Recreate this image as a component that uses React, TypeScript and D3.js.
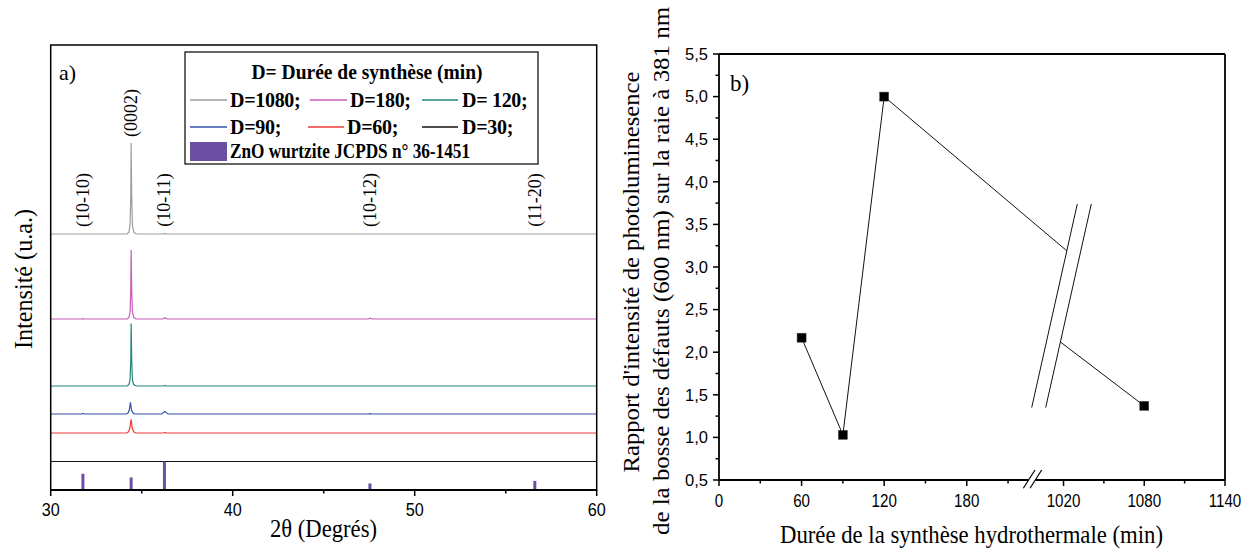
import React from 'react';
import * as d3 from 'd3';

// ---------- Panel a) : XRD patterns ----------
const xrdMajorTicks = [30, 40, 50, 60];
const xrdMinorTicks = [35, 45, 55];

const seriesNames = ['D=1080;', 'D=180;', 'D= 120;', 'D=90;', 'D=60;', 'D=30;'];
const seriesColors = ['#9d9d9d', '#c65bb8', '#24877e', '#3352a8', '#ee3a3a', '#111111'];
const seriesOffsets = [256, 171, 104, 76, 57, 28.5];

const xrd1080 = [[30, 0], [34.2, 0], [34.3, 2], [34.36, 9], [34.4, 38], [34.42, 91], [34.45, 38], [34.49, 9], [34.56, 2], [34.7, 0], [36.2, 0], [36.27, 0.6], [36.35, 0], [60, 0]];
const xrd180 = [[30, 0], [31.7, 0], [31.77, 0.3], [31.85, 0], [34.2, 0], [34.3, 1.5], [34.36, 7], [34.4, 29], [34.42, 69], [34.45, 29], [34.49, 7], [34.56, 1.5], [34.7, 0], [36.15, 0], [36.27, 1.3], [36.4, 0], [47.45, 0], [47.55, 0.8], [47.65, 0], [60, 0]];
const xrd120 = [[30, 0], [34.2, 0], [34.3, 1.5], [34.36, 6], [34.4, 26], [34.42, 62.5], [34.45, 26], [34.49, 6], [34.56, 1.5], [34.7, 0], [36.2, 0], [36.27, 0.5], [36.35, 0], [60, 0]];
const xrd90 = [[30, 0], [31.7, 0], [31.77, 0.6], [31.85, 0], [34.15, 0], [34.25, 1], [34.32, 4], [34.38, 11.7], [34.44, 4], [34.52, 1], [34.62, 0], [36.1, 0], [36.2, 1.6], [36.27, 2.5], [36.34, 1.6], [36.45, 0], [47.45, 0], [47.55, 0.4], [47.65, 0], [60, 0]];
const xrd60 = [[30, 0], [34.18, 0], [34.28, 1.2], [34.35, 5], [34.42, 13.7], [34.48, 5], [34.56, 1.2], [34.66, 0], [36.2, 0], [36.27, 0.5], [36.35, 0], [60, 0]];
const xrd30 = [[30, 0], [60, 0]];
const xrdSeries = [xrd1080, xrd180, xrd120, xrd90, xrd60, xrd30];

// JCPDS 36-1451 reference reflections
const refAngles = [31.77, 34.42, 36.25, 47.54, 56.6];
const refIntensities = [57, 44, 100, 23, 32];
const refLabels = ['(10-10)', '(0002)', '(10-11)', '(10-12)', '(11-20)'];
const refLabelCenters = [200, 113, 200, 200, 200];

// ---------- Panel b) : PL ratio ----------
const durations = [60, 90, 120, 1080];
const ratios = [2.17, 1.03, 5.0, 1.37];
const breakEntryRatio = 3.19;
const breakExitRatio = 2.12;
const yMajorTicks = [0.5, 1, 1.5, 2, 2.5, 3, 3.5, 4, 4.5, 5, 5.5];
const yMinorTicks = [0.75, 1.25, 1.75, 2.25, 2.75, 3.25, 3.75, 4.25, 4.75, 5.25];
const seg1Major = [0, 60, 120, 180];
const seg1Minor = [30, 90, 150, 210];
const seg2Major = [1020, 1080, 1140];
const seg2Minor = [1050, 1110];

const serif = "'Liberation Serif', 'Times New Roman', serif";
const sans = "'Liberation Sans', Arial, sans-serif";

export default function App() {
  // panel a scales
  const ax = d3.scaleLinear().domain([30, 60]).range([50.7, 596.7]);
  const ay = d3.scaleLinear().domain([0, 445]).range([490, 45]);
  const refY = d3.scaleLinear().domain([0, 100]).range([490, 461.5]);

  // panel b scales (broken x axis)
  const rx1 = d3.scaleLinear().domain([0, 225]).range([719, 1028.7]);
  const rx2 = d3.scaleLinear().domain([1004, 1140]).range([1042, 1225]);
  const rx = (t: number) => (t <= 600 ? rx1(t) : rx2(t));
  const ry = d3.scaleLinear().domain([0.5, 5.5]).range([480, 54]);

  // break band (decoration)
  const bandBottomY = ry(1.35);
  const bandTopY = ry(3.74);
  const bandBottomX = 1031.7;
  const bandSlope = (1077.3 - 1031.7) / (bandBottomY - bandTopY);
  const bandW = 14;
  const bandX = (y: number, off: number) => bandBottomX + off + (bandBottomY - y) * bandSlope;

  const pts = durations.map((t, i) => [rx(t), ry(ratios[i])]);
  const entry = [bandX(ry(breakEntryRatio), 0), ry(breakEntryRatio)];
  const exit = [bandX(ry(breakExitRatio), bandW), ry(breakExitRatio)];
  const linePts = [pts[0], pts[1], pts[2], entry, exit, pts[3]];
  const lineGen = d3.line<number[]>().x(d => d[0]).y(d => d[1]);

  const fmt = (v: number) => d3.format('.1f')(v).replace('.', ',');

  const legendRows = [
    [0, 1, 2],
    [3, 4, 5],
  ];
  const legendCols = [
    [[190, 227, 230], [310, 347, 350], [422, 458, 462]],
    [[190, 227, 230], [308, 344, 347], [422, 458, 462]],
  ];
  const legendRowY = [100, 127];

  return (
    <svg width={1250} height={552} style={{ position: 'absolute', left: 0, top: 0, background: '#fff' }}>
      <rect x={0} y={0} width={1250} height={552} fill="#fff" />

      {/* ===== Panel a ===== */}
      {xrdSeries.map((s, i) => {
        const g = d3.line<number[]>().x(d => ax(d[0])).y(d => ay(d[1] + seriesOffsets[i]));
        return <path key={i} d={g(s) || ''} fill="none" stroke={seriesColors[i]} strokeWidth={1.2} />;
      })}
      {refAngles.map((a, i) => (
        <line key={i} x1={ax(a)} x2={ax(a)} y1={refY(0)} y2={refY(refIntensities[i])} stroke="#6a4fa3" strokeWidth={3} />
      ))}
      <rect x={ax(30)} y={ay(445)} width={ax(60) - ax(30)} height={ay(0) - ay(445)} fill="none" stroke="#000" strokeWidth={1.5} />
      <line x1={ax(30)} x2={ax(60)} y1={ay(0)} y2={ay(0)} stroke="#000" strokeWidth={2} />
      {xrdMajorTicks.map(t => (
        <g key={t}>
          <line x1={ax(t)} x2={ax(t)} y1={490} y2={496} stroke="#000" strokeWidth={1.5} />
          <text transform={`translate(${ax(t)},516) scale(0.9,1)`} textAnchor="middle" fontFamily={sans} fontSize={18}>{t}</text>
        </g>
      ))}
      {xrdMinorTicks.map(t => (
        <line key={t} x1={ax(t)} x2={ax(t)} y1={490} y2={493.5} stroke="#000" strokeWidth={1.5} />
      ))}
      <text x={323.5} y={536.5} textAnchor="middle" fontFamily={serif} fontSize={25} textLength={107} lengthAdjust="spacingAndGlyphs">2θ (Degrés)</text>
      <text transform="translate(32,279) rotate(-90)" textAnchor="middle" fontFamily={serif} fontSize={26} textLength={140} lengthAdjust="spacingAndGlyphs">Intensité (u.a.)</text>
      <text x={59} y={79.5} fontFamily={serif} fontSize={22}>a)</text>
      {refLabels.map((l, i) => (
        <text key={l} transform={`translate(${ax(refAngles[i])},${refLabelCenters[i]}) rotate(-90)`} textAnchor="middle" dominantBaseline="central" fontFamily={serif} fontSize={18}>{l}</text>
      ))}

      {/* legend */}
      <rect x={185} y={52} width={353} height={112} fill="#fff" stroke="#000" strokeWidth={1.2} />
      <text x={367} y={78.5} textAnchor="middle" fontFamily={serif} fontWeight="bold" fontSize={20} textLength={231} lengthAdjust="spacingAndGlyphs">D= Durée de synthèse (min)</text>
      {legendRows.map((row, r) =>
        row.map((si, c) => {
          const [x1, x2, tx] = legendCols[r][c];
          const y = legendRowY[r];
          return (
            <g key={si}>
              <line x1={x1} x2={x2} y1={y} y2={y} stroke={seriesColors[si]} strokeWidth={1.3} />
              <text x={tx} y={y + 6.8} fontFamily={serif} fontWeight="bold" fontSize={20} letterSpacing={-0.3}>{seriesNames[si]}</text>
            </g>
          );
        })
      )}
      <rect x={190} y={142} width={37} height={19} fill="#6a4fa3" />
      <text x={230} y={158.3} fontFamily={serif} fontWeight="bold" fontSize={20} textLength={240} lengthAdjust="spacingAndGlyphs">ZnO wurtzite JCPDS n° 36-1451</text>

      {/* ===== Panel b ===== */}
      <path d={lineGen(linePts) || ''} fill="none" stroke="#111" strokeWidth={1} />
      <polygon
        points={[
          [bandX(bandBottomY, 0), bandBottomY],
          [bandX(bandTopY, 0), bandTopY],
          [bandX(bandTopY, bandW), bandTopY],
          [bandX(bandBottomY, bandW), bandBottomY],
        ].map(p => p.join(',')).join(' ')}
        fill="#fff"
        stroke="none"
      />
      <line x1={bandX(bandBottomY, 0)} y1={bandBottomY} x2={bandX(bandTopY, 0)} y2={bandTopY} stroke="#111" strokeWidth={1} />
      <line x1={bandX(bandBottomY, bandW)} y1={bandBottomY} x2={bandX(bandTopY, bandW)} y2={bandTopY} stroke="#111" strokeWidth={1} />
      {pts.map((p, i) => (
        <rect key={i} x={p[0] - 4.5} y={p[1] - 4.5} width={9} height={9} fill="#000" stroke="#444" strokeWidth={0.5} />
      ))}

      <line x1={719} x2={1225} y1={54} y2={54} stroke="#000" strokeWidth={1.8} />
      <line x1={719} x2={719} y1={54} y2={480} stroke="#000" strokeWidth={1.8} />
      <line x1={1225} x2={1225} y1={54} y2={480} stroke="#000" strokeWidth={1.8} />
      <line x1={719} x2={1028.6} y1={480} y2={480} stroke="#000" strokeWidth={1.8} />
      <line x1={1035.3} x2={1225} y1={480} y2={480} stroke="#000" strokeWidth={1.8} />
      <line x1={1023.3} y1={488.3} x2={1035} y2={470} stroke="#000" strokeWidth={1.2} />
      <line x1={1030} y1={488.3} x2={1041.7} y2={470} stroke="#000" strokeWidth={1.2} />

      {yMajorTicks.map(v => (
        <g key={v}>
          <line x1={713} x2={719} y1={ry(v)} y2={ry(v)} stroke="#000" strokeWidth={1.5} />
          <text x={708} y={ry(v) + 5.8} textAnchor="end" fontFamily={sans} fontSize={16.5}>{fmt(v)}</text>
        </g>
      ))}
      {yMinorTicks.map(v => (
        <line key={v} x1={715.5} x2={719} y1={ry(v)} y2={ry(v)} stroke="#000" strokeWidth={1.5} />
      ))}
      {[...seg1Major, ...seg2Major].map(t => (
        <g key={t}>
          <line x1={rx(t)} x2={rx(t)} y1={480} y2={486} stroke="#000" strokeWidth={1.5} />
          <text transform={`translate(${rx(t)},506.5) scale(0.82,1)`} textAnchor="middle" fontFamily={sans} fontSize={18.5}>{t}</text>
        </g>
      ))}
      {[...seg1Minor, ...seg2Minor].map(t => (
        <line key={t} x1={rx(t)} x2={rx(t)} y1={480} y2={483.5} stroke="#000" strokeWidth={1.5} />
      ))}
      <text x={730} y={91} fontFamily={serif} fontSize={23}>b)</text>
      <text x={971.5} y={543} textAnchor="middle" fontFamily={serif} fontSize={25} textLength={383} lengthAdjust="spacingAndGlyphs">Durée de la synthèse hydrothermale (min)</text>
      <text transform="translate(639,272) rotate(-90)" textAnchor="middle" fontFamily={serif} fontSize={24} textLength={401} lengthAdjust="spacingAndGlyphs">Rapport d'intensité de photoluminesence</text>
      <text transform="translate(669,271) rotate(-90)" textAnchor="middle" fontFamily={serif} fontSize={24} textLength={528} lengthAdjust="spacingAndGlyphs">de la bosse des défauts (600 nm) sur la raie à 381 nm</text>
    </svg>
  );
}
